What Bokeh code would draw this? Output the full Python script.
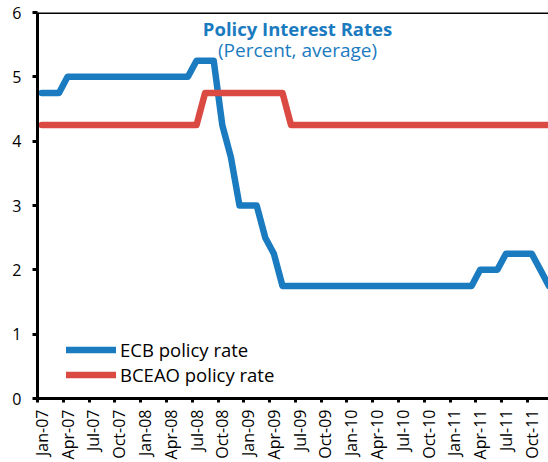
import math
from bokeh.plotting import figure
from bokeh.models import Range1d, FixedTicker, Span, Label, Legend, LegendItem, ColumnDataSource
from bokeh.embed import file_html
from bokeh.resources import INLINE

# ---------------- data ----------------
tick_labels = ["Jan-07", "Apr-07", "Jul-07", "Oct-07",
               "Jan-08", "Apr-08", "Jul-08", "Oct-08",
               "Jan-09", "Apr-09", "Jul-09", "Oct-09",
               "Jan-10", "Apr-10", "Jul-10", "Oct-10",
               "Jan-11", "Apr-11", "Jul-11", "Oct-11"]

# monthly values, Jan-07 .. Dec-11
ecb_rate = [4.75, 4.75, 4.75, 5.00, 5.00, 5.00, 5.00, 5.00, 5.00, 5.00, 5.00, 5.00,   # 2007
            5.00, 5.00, 5.00, 5.00, 5.00, 5.00, 5.25, 5.25, 5.25, 4.25, 3.75, 3.00,   # 2008
            3.00, 3.00, 2.50, 2.25, 1.75, 1.75, 1.75, 1.75, 1.75, 1.75, 1.75, 1.75,   # 2009
            1.75, 1.75, 1.75, 1.75, 1.75, 1.75, 1.75, 1.75, 1.75, 1.75, 1.75, 1.75,   # 2010
            1.75, 1.75, 1.75, 2.00, 2.00, 2.00, 2.25, 2.25, 2.25, 2.25, 2.00, 1.75]   # 2011

bceao_rate = [4.25, 4.25, 4.25, 4.25, 4.25, 4.25, 4.25, 4.25, 4.25, 4.25, 4.25, 4.25,  # 2007
              4.25, 4.25, 4.25, 4.25, 4.25, 4.25, 4.25, 4.75, 4.75, 4.75, 4.75, 4.75,  # 2008
              4.75, 4.75, 4.75, 4.75, 4.75, 4.25, 4.25, 4.25, 4.25, 4.25, 4.25, 4.25,  # 2009
              4.25, 4.25, 4.25, 4.25, 4.25, 4.25, 4.25, 4.25, 4.25, 4.25, 4.25, 4.25,  # 2010
              4.25, 4.25, 4.25, 4.25, 4.25, 4.25, 4.25, 4.25, 4.25, 4.25, 4.25, 4.25]  # 2011

y_ticks = [0, 1, 2, 3, 4, 5, 6]

# ---------------- layout / style ----------------
BLUE = "#1B7BC0"
RED = "#DA4A43"
FONT = "Open Sans"
n = len(ecb_rate)
xc = [i + 0.5 for i in range(n)]          # category centres
label_step = 3

src = ColumnDataSource(dict(x=xc, ecb=ecb_rate, bceao=bceao_rate))

p = figure(width=548, height=462, output_backend="svg", toolbar_location=None,
           x_range=Range1d(0, 59.45), y_range=Range1d(y_ticks[0], y_ticks[-1]),
           min_border_left=37, min_border_top=12, min_border_bottom=64, min_border_right=0)
p.outline_line_color = None
p.xgrid.visible = False
p.ygrid.visible = False
p.background_fill_color = "white"
p.border_fill_color = "white"

r_ecb = p.line("x", "ecb", source=src, color=BLUE, line_width=6.5,
               line_join="round", line_cap="round")
r_bceao = p.line("x", "bceao", source=src, color=RED, line_width=6.5,
                 line_join="round", line_cap="round")

# x axis: labels at category centres, tick marks at category boundaries
bounds = [i * label_step for i in range(len(tick_labels))]
centres = [b + 0.5 for b in bounds]
xa = p.xaxis[0]
xa.ticker = FixedTicker(ticks=centres, minor_ticks=bounds)
xa.major_label_overrides = {c: t for c, t in zip(centres, tick_labels)}
xa.major_label_orientation = math.pi / 2
xa.major_tick_line_color = None
xa.major_tick_out = 4
xa.major_tick_in = 0
xa.minor_tick_out = 4
xa.minor_tick_in = 0
xa.minor_tick_line_width = 3
xa.minor_tick_line_color = "black"
xa.axis_line_width = 3
xa.axis_line_color = "black"
xa.major_label_standoff = 7
xa.major_label_text_font = FONT
xa.major_label_text_font_size = "16px"
xa.major_label_text_color = "black"

ya = p.yaxis[0]
ya.ticker = FixedTicker(ticks=y_ticks, minor_ticks=[])
ya.major_tick_out = 5
ya.major_tick_in = 0
ya.major_tick_line_width = 3
ya.minor_tick_line_color = None
ya.axis_line_width = 3
ya.axis_line_color = "black"
ya.major_label_standoff = 11
ya.major_label_text_font = FONT
ya.major_label_text_font_size = "16px"
ya.major_label_text_color = "black"

# top frame line
p.add_layout(Span(location=y_ticks[-1], dimension="width", line_color="black", line_width=3))

# title inside plot
p.add_layout(Label(x=30.25, y=5.75, text="Policy Interest Rates", text_align="center",
                   text_baseline="alphabetic", text_font=FONT, text_font_style="bold",
                   text_font_size="18.5px", text_color=BLUE))
p.add_layout(Label(x=30.25, y=5.41, text="(Percent, average)", text_align="center",
                   text_baseline="alphabetic", text_font=FONT,
                   text_font_size="19px", text_color=BLUE))

legend = Legend(items=[LegendItem(label="ECB policy rate", renderers=[r_ecb]),
                       LegendItem(label="BCEAO policy rate", renderers=[r_bceao])],
                location=(29, 11), border_line_color=None, background_fill_alpha=0,
                padding=0, margin=0, spacing=0, glyph_width=50, glyph_height=25,
                label_height=25, label_standoff=4, label_text_font=FONT,
                label_text_font_size="18.5px", label_text_color="black")
p.add_layout(legend)

open("out.html", "w").write(file_html(p, INLINE))
